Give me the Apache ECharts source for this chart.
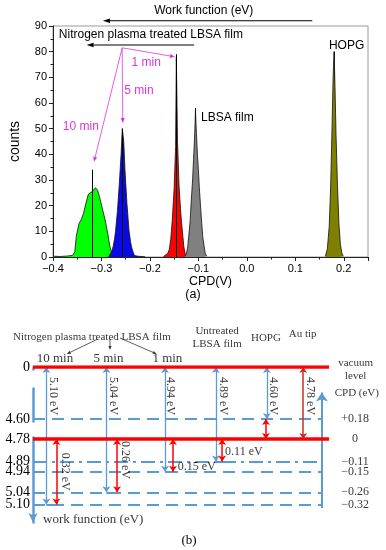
<!DOCTYPE html>
<html><head><meta charset="utf-8">
<script src="https://cdn.jsdelivr.net/npm/echarts@6/dist/echarts.min.js"></script>
<style>html,body{margin:0;padding:0;background:#fff}#c{width:386px;height:550px}</style>
</head><body><div id="c"></div>
<script>
// ================= DATA: panel (a) CPD histograms =================
const hist10min = [[-0.400,0.3],[-0.385,0.2],[-0.370,0.4],[-0.360,0.6],[-0.356,1],[-0.355,2],[-0.352,8],[-0.3465,13],[-0.342,14.5],[-0.337,17],[-0.332,21],[-0.327,24.5],[-0.3235,24],[-0.319,25.5],[-0.3125,27],[-0.308,26],[-0.304,23.5],[-0.299,19.5],[-0.2925,14.5],[-0.287,9],[-0.2825,4],[-0.2795,2],[-0.274,1],[-0.268,0.5]];
const hist5min = [[-0.285,0.2],[-0.282,0.6],[-0.279,2],[-0.276,4],[-0.273,7],[-0.271,10],[-0.267,18],[-0.263,29],[-0.2595,40],[-0.257,50],[-0.254,45],[-0.2515,34],[-0.2475,21],[-0.243,10],[-0.240,6],[-0.238,4],[-0.235,2],[-0.232,0.6],[-0.225,0.3],[-0.210,0.1]];
const hist1min = [[-0.172,0.2],[-0.168,0.8],[-0.163,1.5],[-0.160,3],[-0.157,7],[-0.154,14],[-0.150,27],[-0.147,43],[-0.1455,78],[-0.143,45],[-0.140,28],[-0.137,19],[-0.135,14],[-0.132,8],[-0.130,4],[-0.127,1],[-0.124,0.2]];
const histLBSA = [[-0.128,0.2],[-0.125,1],[-0.122,4],[-0.120,8],[-0.117,14],[-0.115,21],[-0.112,30],[-0.110,38],[-0.108,46],[-0.106,57],[-0.104,48],[-0.102,40],[-0.100,34],[-0.098,27],[-0.096,21],[-0.093,13],[-0.091,8],[-0.088,4],[-0.086,1.5],[-0.083,0.3]];
const histHOPG = [[0.162,0.3],[0.166,3],[0.170,12],[0.173,28],[0.176,52],[0.178,70],[0.180,80],[0.182,66],[0.184,48],[0.187,28],[0.190,13],[0.193,5],[0.196,1.5],[0.199,0.3]];
const histNames = ['10 min','5 min','1 min','LBSA film','HOPG'];
const peakCPD = [-0.318,-0.257,-0.1455,-0.106,0.1795];
const peakCounts = [34,50,79,58,80];

// ================= DATA: panel (b) energy diagram =================
const levelWF  = [4.60, 4.78, 4.89, 4.94, 5.04, 5.10];
const levelCPD = ['+0.18','0','\u22120.11','\u22120.15','\u22120.26','\u22120.32'];
const sampleNames = ['10 min','5 min','1 min','Untreated\nLBSA film','HOPG','Au tip'];
const sampleWF = [5.10, 5.04, 4.94, 4.89, 4.60, 4.78];
const sampleWFLabel = ['5.10 eV','5.04 eV','4.94 eV','4.89 eV','4.60 eV','4.78 eV'];
const tipWF = 4.78;
const cpdShiftLabel = ['0.32 eV','0.26 eV','0.15 eV','0.11 eV'];

// ================= LAYOUT (positions / styles) =================
const histColors = ['#00ff00','#0a0ae6','#ff0000','#808080','#808000'];
const magenta = '#dd33dd';
const blue = '#5b9bd5';
const red = '#ff0000';
const sansF = 'Liberation Sans, Arial, sans-serif';
const serifF = 'Liberation Serif, Times New Roman, serif';
const colWF  = [4.5, 24.8, 44.6, 61.8, 79.0, 91.3];   // x (0..100) of work-function arrows
const colCPD = [7.9, 28.4, 47.3, 63.9, 78.7];         // x of CPD arrows
const rightArrowX = 97.6;

const histData = [hist10min, hist5min, hist1min, histLBSA, histHOPG];

const series = [];
histData.forEach((d, i) => {
  series.push({
    type:'line', name:histNames[i], xAxisIndex:0, yAxisIndex:0, data:d,
    symbol:'none', smooth:false, z:2+i,
    lineStyle:{color:'#111', width:0.8},
    areaStyle:{color:histColors[i], opacity:1},
    markLine:{silent:true, symbol:['none','none'], label:{show:false},
      lineStyle:{color:'#000', width:1, type:'solid'},
      data:[[{coord:[peakCPD[i],0]},{coord:[peakCPD[i],peakCounts[i]]}]]}
  });
});

// ---- panel (b) series ----
const dashLevels = levelWF.filter(v => v !== tipWF && v !== 4.89);
series.push({type:'lines', coordinateSystem:'cartesian2d', xAxisIndex:1, yAxisIndex:1, z:3,
  lineStyle:{color:blue, width:2, type:[12,7], opacity:1}, symbol:['none','none'],
  data: dashLevels.map(v => ({coords:[[0,v],[rightArrowX,v]]}))});
series.push({type:'lines', coordinateSystem:'cartesian2d', xAxisIndex:1, yAxisIndex:1, z:3,
  lineStyle:{color:blue, width:2, type:[14,5,3,5], opacity:1}, symbol:['none','none'],
  data:[{coords:[[0,4.89],[rightArrowX,4.89]]}]});
series.push({type:'lines', coordinateSystem:'cartesian2d', xAxisIndex:1, yAxisIndex:1, z:4,
  lineStyle:{color:blue, width:2, opacity:1}, symbol:['none','none'],
  data:[0,1,2,3].map(i => ({coords:[[colWF[i],sampleWF[i]],[colCPD[i],sampleWF[i]]]}))});
series.push({type:'lines', coordinateSystem:'cartesian2d', xAxisIndex:1, yAxisIndex:1, z:6,
  lineStyle:{color:red, width:3.5, opacity:1}, symbol:['none','none'],
  data:[{coords:[[0,0],[100,0]]},{coords:[[0,tipWF],[100,tipWF]]}]});
series.push({type:'lines', coordinateSystem:'cartesian2d', xAxisIndex:1, yAxisIndex:1, z:5,
  lineStyle:{color:blue, width:1.3, opacity:1}, symbol:['arrow','arrow'], symbolSize:6,
  data:[0,1,2,3,4].map(i => ({coords:[[colWF[i],0],[colWF[i],sampleWF[i]]]}))});
series.push({type:'lines', coordinateSystem:'cartesian2d', xAxisIndex:1, yAxisIndex:1, z:5,
  lineStyle:{color:'#c0302a', width:1.5, opacity:1}, symbol:['arrow','arrow'], symbolSize:6,
  data:[{coords:[[colWF[5],0],[colWF[5],tipWF]]}]});
series.push({type:'lines', coordinateSystem:'cartesian2d', xAxisIndex:1, yAxisIndex:1, z:7,
  lineStyle:{color:red, width:1.5, opacity:1}, symbol:['arrow','arrow'], symbolSize:6,
  data:[0,1,2,3,4].map(i => ({coords:[[colCPD[i],tipWF],[colCPD[i],sampleWF[i]]]}))});
series.push({type:'lines', coordinateSystem:'cartesian2d', xAxisIndex:1, yAxisIndex:1, z:5,
  lineStyle:{color:blue, width:2, opacity:1}, symbol:['none','arrow'], symbolSize:9,
  data:[{coords:[[rightArrowX,5.117],[rightArrowX,4.471]]}]});

function T(x, y, text, o) {
  return {value:[x,y], label:Object.assign({show:true, position:'inside', formatter:text,
    fontFamily:serifF, fontSize:12, color:'#000'}, o || {})};
}
const bTexts = [];
bTexts.push(T(19.9, 0, 'Nitrogen plasma treated LBSA film', {fontSize:11, offset:[0,-30]}));
[0,1,2].forEach(i => bTexts.push(T([7.4,25.5,45.4][i], 0, sampleNames[i], {fontSize:13, offset:[0,-8]})));
bTexts.push(T(62.2, 0, sampleNames[3], {fontSize:11, lineHeight:13, offset:[0,-29.5]}));
bTexts.push(T(78.7, 0, sampleNames[4], {fontSize:11, offset:[0,-29]}));
bTexts.push(T(91.1, 0, sampleNames[5], {fontSize:11, offset:[0,-33]}));
bTexts.push(T(109.0, 0, 'vacuum\nlevel', {fontSize:11, lineHeight:13, offset:[0,3]}));
bTexts.push(T(109.4, 4.475, 'CPD (eV)', {fontSize:11}));
levelWF.forEach((v, i) => bTexts.push(T(108.8, v, levelCPD[i], {fontSize:12})));
const wfLabelX = [6.9, 27.1, 46.4, 64.3, 81.2, 93.8];
sampleWF.forEach((v, i) => bTexts.push(T(wfLabelX[i], 4.488, sampleWFLabel[i], {rotate:-90})));
bTexts.push(T(10.8, 4.9395, cpdShiftLabel[0], {rotate:-90}));
bTexts.push(T(31.1, 4.882, cpdShiftLabel[1], {rotate:-90}));
bTexts.push(T(48.9, 4.915, cpdShiftLabel[2], {position:'right', distance:0}));
bTexts.push(T(64.9, 4.842, cpdShiftLabel[3], {position:'right', distance:0}));
bTexts.push(T(3.4, 5.173, 'work function (eV)', {position:'right', distance:0, fontSize:13}));
series.push({type:'scatter', xAxisIndex:1, yAxisIndex:1, symbolSize:0, clip:false, z:10,
  silent:true, data:bTexts});

const fmtX = v => (v < -1e-9 ? '\u2212' : '') + Math.abs(v).toFixed(1);

const option = {
  animation:false,
  backgroundColor:'#fff',
  grid:[
    {left:39, top:26, width:329, height:231, show:true, borderColor:'#9a9a9a', borderWidth:1, backgroundColor:'transparent'},
    {left:33, top:367, width:296, height:155}
  ],
  xAxis:[
    {type:'value', gridIndex:0, min:-0.4, max:0.25, interval:0.1,
     name:'CPD(V)', nameLocation:'middle', nameGap:18,
     nameTextStyle:{fontFamily:sansF, fontSize:12.5, color:'#000'},
     axisLine:{show:true, onZero:false, lineStyle:{color:'#222', width:1}},
     axisTick:{show:true, length:4, lineStyle:{color:'#222'}},
     minorTick:{show:true, splitNumber:2, length:2.5, lineStyle:{color:'#222'}},
     splitLine:{show:false},
     axisLabel:{fontFamily:sansF, fontSize:11, color:'#000', margin:6, formatter:fmtX, showMaxLabel:false}},
    {type:'value', gridIndex:1, min:0, max:100, show:false}
  ],
  yAxis:[
    {type:'value', gridIndex:0, min:0, max:90, interval:10,
     name:'counts', nameLocation:'middle', nameGap:31,
     nameTextStyle:{fontFamily:sansF, fontSize:14, color:'#000'},
     axisLine:{show:true, onZero:false, lineStyle:{color:'#222', width:1}},
     axisTick:{show:true, length:4, lineStyle:{color:'#222'}},
     minorTick:{show:true, splitNumber:2, length:2.5, lineStyle:{color:'#222'}},
     splitLine:{show:false},
     axisLabel:{fontFamily:sansF, fontSize:11, color:'#000', margin:6}},
    {type:'value', gridIndex:1, min:0, max:5.185, inverse:true,
     breaks:[{start:0.01, end:4.45, gap:0.0939},{start:4.61, end:4.77, gap:0.0776}],
     breakArea:{show:false},
     axisLine:{show:true, onZero:false, symbol:['arrow','none'], symbolSize:[7,9], lineStyle:{color:blue, width:2.5}},
     axisTick:{show:false}, splitLine:{show:false},
     axisLabel:{customValues:levelWF.concat([0]), fontFamily:serifF, fontSize:14, color:'#000', margin:3,
       formatter: v => v === 0 ? '0' : v.toFixed(2)}}
  ],
  series:series
};

const chart = echarts.init(document.getElementById('c'));
chart.setOption(option);

// ---- annotations for panel (a), placed in data coordinates ----
const annotTexts = [
  {t:'Work function (eV)', at:[-0.0889,95.8], c:'#000'},
  {t:'Nitrogen plasma treated LBSA film', at:[-0.198,86.5], c:'#000'},
  {t:'1 min', at:[-0.2078,75.7], c:magenta},
  {t:'5 min', at:[-0.2226,64.8], c:magenta},
  {t:'10 min', at:[-0.3425,50.8], c:magenta},
  {t:'LBSA film', at:[-0.0403,54.4], c:'#000'},
  {t:'HOPG', at:[0.2058,82.2], c:'#000'}
];
const annotArrows = [
  {from:[0.135,92.05], to:[-0.297,92.05], c:'#000', w:1.1, hl:7, hw:2.2},
  {from:[-0.1087,82.6], to:[-0.3306,82.6], c:'#000', w:1.1, hl:7, hw:2.2},
  {from:[-0.2573,81.5], to:[-0.1483,78.0], c:magenta, w:0.8, hl:5, hw:2},
  {from:[-0.2573,81.5], to:[-0.256,52.2], c:magenta, w:0.8, hl:5, hw:2},
  {from:[-0.2573,81.5], to:[-0.3154,37.1], c:magenta, w:0.8, hl:5, hw:2}
];
function arrowEls(p1, p2, color, lw, hl, hw) {
  const dx = p2[0]-p1[0], dy = p2[1]-p1[1], L = Math.hypot(dx,dy), ux = dx/L, uy = dy/L;
  const bx = p2[0]-ux*hl, by = p2[1]-uy*hl;
  return [
    {type:'line', shape:{x1:p1[0],y1:p1[1],x2:bx,y2:by}, style:{stroke:color, lineWidth:lw}, z:100},
    {type:'polygon', shape:{points:[[p2[0],p2[1]],[bx-uy*hw,by+ux*hw],[bx+uy*hw,by-ux*hw]]}, style:{fill:color}, z:100}
  ];
}
const g = [];
annotTexts.forEach(a => {
  const p = chart.convertToPixel({gridIndex:0}, a.at);
  g.push({type:'text', x:p[0], y:p[1], z:100, style:{text:a.t, fill:a.c, font:'12px ' + sansF, align:'center', verticalAlign:'middle'}});
});
annotArrows.forEach(a => {
  const p1 = chart.convertToPixel({gridIndex:0}, a.from);
  const p2 = chart.convertToPixel({gridIndex:0}, a.to);
  arrowEls(p1, p2, a.c, a.w, a.hl, a.hw).forEach(e => g.push(e));
});
const topY = chart.convertToPixel({yAxisIndex:1}, 0);
const hx = u => chart.convertToPixel({xAxisIndex:1}, u);
[[21.9,11.4,-28,-13],[26.0,26.0,-28,-17],[29.4,41.8,-29,-13]].forEach(h => {
  arrowEls([hx(h[0]), topY + h[2]], [hx(h[1]), topY + h[3]], '#333', 0.8, 4, 1.6).forEach(e => g.push(e));
});
g.push({type:'text', x:193, y:295, z:100, style:{text:'(a)', fill:'#000', font:'12.5px ' + sansF, align:'center', verticalAlign:'middle'}});
g.push({type:'text', x:189, y:541, z:100, style:{text:'(b)', fill:'#000', font:'13px ' + serifF, align:'center', verticalAlign:'middle'}});
chart.setOption({graphic:g});
</script>
</body></html>
